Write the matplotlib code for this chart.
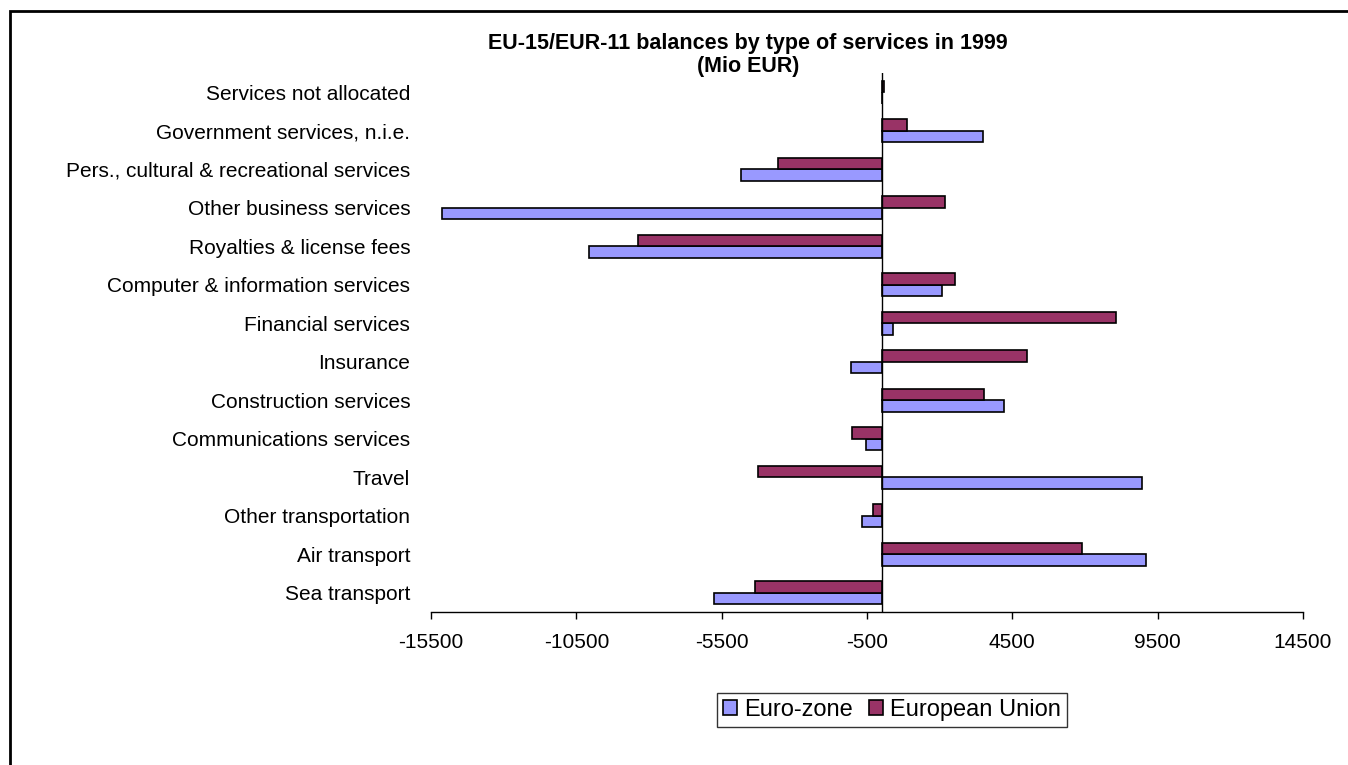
import matplotlib
matplotlib.use("Agg")
import matplotlib.pyplot as plt
from matplotlib.patches import Rectangle
import numpy as np

plt.rcParams['font.family'] = ['Liberation Sans', 'DejaVu Sans']

# service categories, listed from the bottom row upwards
categories = [
    "Sea transport",
    "Air transport",
    "Other transportation",
    "Travel",
    "Communications services",
    "Construction services",
    "Insurance",
    "Financial services",
    "Computer & information services",
    "Royalties & license fees",
    "Other business services",
    "Pers., cultural & recreational services",
    "Government services, n.i.e.",
    "Services not allocated",
]
# balances, Mio EUR
euro_zone = [-5760, 9090, -665, 8950, -530, 4220, -1060, 380, 2080,
             -10050, -15130, -4840, 3490, 0]
european_union = [-4350, 6910, -300, -4240, -1010, 3520, 5010, 8050, 2520,
                  -8390, 2190, -3550, 870, 80]
x_ticks = [-15500, -10500, -5500, -500, 4500, 9500, 14500]

W, H = 1348, 765
fig = plt.figure(figsize=(W / 100, H / 100), dpi=100)
fig.patch.set_facecolor('white')

# outer chart frame (only top and left edges fall inside the image)
fig.add_artist(Rectangle((10 / W, -0.1), 1.2, 1.1 - 11 / H,
                         transform=fig.transFigure, fill=False,
                         edgecolor='black', linewidth=2))

ax = fig.add_axes([431 / W, 1 - 612 / H, 872 / W, 539 / H])

y = np.arange(len(categories))
h = 0.3
ax.barh(y - h / 2, euro_zone, height=h, color='#9999FF',
        edgecolor='black', linewidth=1.2, label='Euro-zone')
ax.barh(y + h / 2, european_union, height=h, color='#993366',
        edgecolor='black', linewidth=1.2, label='European Union')

ax.set_xlim(-15500, 14500)
ax.set_ylim(-0.5, len(categories) - 0.5)
ax.axvline(0, color='black', linewidth=1)

ax.set_xticks(x_ticks)
ax.set_xticklabels([str(v) for v in x_ticks], fontsize=15)
ax.tick_params(axis='x', direction='out', length=5, width=1, pad=10)

ax.set_yticks(y)
ax.set_yticklabels(categories, fontsize=15)
ax.tick_params(axis='y', length=0, pad=15)

for side in ['top', 'right', 'left']:
    ax.spines[side].set_visible(False)
ax.spines['bottom'].set_linewidth(1)

fig.text(748 / W, 1 - 55 / H,
         "EU-15/EUR-11 balances by type of services in 1999\n(Mio EUR)",
         ha='center', va='center', fontsize=15.5, fontweight='bold',
         linespacing=1.15)

leg = ax.legend(loc='center', bbox_to_anchor=(892 / W, 1 - 710 / H),
                bbox_transform=fig.transFigure, ncol=2, fontsize=17,
                frameon=True, fancybox=False, handlelength=0.6,
                handleheight=0.6, handletextpad=0.3, columnspacing=0.7,
                borderpad=0.25, borderaxespad=0)
leg.get_frame().set_edgecolor('black')
leg.get_frame().set_linewidth(1)

fig.savefig("out.png", dpi=100)
